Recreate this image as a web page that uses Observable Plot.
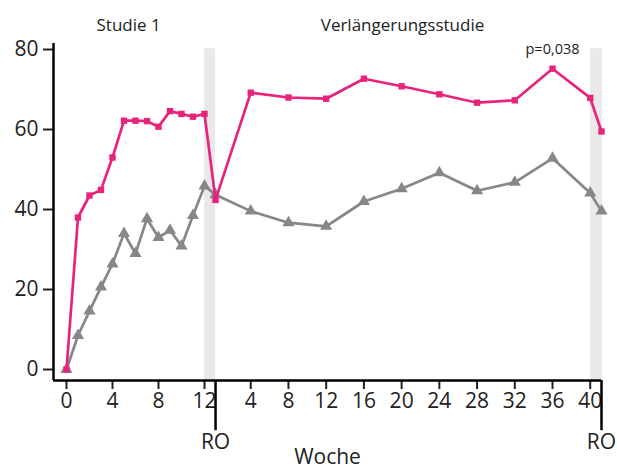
<!DOCTYPE html>
<html>
<head>
<meta charset="utf-8">
<script src="https://cdn.jsdelivr.net/npm/d3@7"></script>
<script src="https://cdn.jsdelivr.net/npm/@observablehq/plot@0.6"></script>
<style>
  body { margin: 0; background: white; }
  #chart { width: 617px; height: 470px; }
</style>
</head>
<body>
<div id="chart"></div>
<script>
// ---- Data ----
const weeksStudy1 = [0, 1, 2, 3, 4, 5, 6, 7, 8, 9, 10, 11, 12];
const weeksExt = [4, 8, 12, 16, 20, 24, 28, 32, 36, 40];
const pinkStudy1 = [0, 38, 43.5, 44.9, 53, 62.2, 62.2, 62.1, 60.7, 64.6, 63.9, 63.2, 63.9];
const pinkRO1 = 42.4;
const pinkExt = [69.2, 68, 67.7, 72.7, 70.8, 68.8, 66.7, 67.3, 75.2, 67.9];
const pinkRO2 = 59.5;
const greyStudy1 = [0, 8.5, 14.6, 20.6, 26.4, 34, 29, 37.7, 33, 34.8, 30.9, 38.5, 45.9];
const greyRO1 = 43.7;
const greyExt = [39.6, 36.7, 35.8, 42, 45.2, 49.2, 44.7, 46.8, 52.8, 44.1];
const greyRO2 = 39.6;
const study1Ticks = [0, 4, 8, 12];
const extTicks = [4, 8, 12, 16, 20, 24, 28, 32, 36, 40];
const yTicks = [0, 20, 40, 60, 80];
const headings = ["Studie 1", "Verlängerungsstudie"];
const pLabel = "p=0,038";
const pWeek = 36;

// ---- Layout: broken x axis (Studie 1 | RO | Verlängerungsstudie | RO) ----
const posS1 = w => w;
const posRO1 = 12.96;
const posExt = w => 12.74 + w * 0.82;
const posRO2 = 46.52;
const xMin = -1.13;
const yMin = -2.75, yMax = 81.5;

function series(name, s1, ro1, ext, ro2) {
  const pts = [];
  weeksStudy1.forEach((w, i) => pts.push({series: name, pos: posS1(w), v: s1[i]}));
  pts.push({series: name, pos: posRO1, v: ro1});
  weeksExt.forEach((w, i) => pts.push({series: name, pos: posExt(w), v: ext[i]}));
  pts.push({series: name, pos: posRO2, v: ro2});
  return pts;
}
const pink = series("pink", pinkStudy1, pinkRO1, pinkExt, pinkRO2);
const grey = series("grey", greyStudy1, greyRO1, greyExt, greyRO2);

const tickMap = new Map();
study1Ticks.forEach(w => tickMap.set(posS1(w), String(w)));
extTicks.forEach(w => tickMap.set(posExt(w), String(w)));
const tickPositions = [...tickMap.keys()];

const PINK = "#e8237c";
const GREY = "#878787";
const BAND = "#e9e9e9";

const chart = Plot.plot({
  width: 617,
  height: 470,
  marginLeft: 53,
  marginRight: 16,
  marginTop: 43,
  marginBottom: 90,
  style: {fontFamily: "'Open Sans', sans-serif", color: "#222", background: "white"},
  x: {domain: [xMin, posRO2], axis: null},
  y: {domain: [yMin, yMax], axis: null},
  marks: [
    // shaded RO bands
    Plot.rect([{x1: 12.0, x2: posRO1}, {x1: 45.57, x2: 46.6}], {x1: "x1", x2: "x2", y1: yMin, y2: 80.2, fill: BAND}),
    // axes
    Plot.axisY({ticks: yTicks, tickSize: 10, tickPadding: 5, fontSize: 21, strokeWidth: 2, label: null}),
    Plot.axisX({ticks: tickPositions, tickFormat: d => tickMap.get(d), tickSize: 9, tickPadding: 4, fontSize: 21, strokeWidth: 2, label: null}),
    Plot.ruleX([xMin], {y1: yMin, y2: yMax, stroke: "black", strokeWidth: 2.5}),
    Plot.ruleY([yMin], {x1: xMin, x2: posRO2, stroke: "black", strokeWidth: 2.5}),
    Plot.ruleX([posRO1, posRO2], {y1: yMin, y2: -15.3, stroke: "black", strokeWidth: 2.5, clip: false}),
    Plot.text(["RO", "RO"], {x: (d, i) => [posRO1, posRO2][i], frameAnchor: "bottom", lineAnchor: "middle", dy: 62, fontSize: 21, text: d => d}),
    Plot.text(["Woche"], {frameAnchor: "bottom", lineAnchor: "middle", dy: 77, fontSize: 21, text: d => d}),
    // headings
    Plot.text([headings[0]], {x: 5.4, frameAnchor: "top", lineAnchor: "middle", dy: -18, fontSize: 17, text: d => d}),
    Plot.text([headings[1]], {x: (402 - 66) / 11.5, frameAnchor: "top", lineAnchor: "middle", dy: -18, fontSize: 17, text: d => d}),
    Plot.text([pLabel], {x: posExt(pWeek), y: 80, fontSize: 14.5, text: d => d}),
    // series
    Plot.line(grey, {x: "pos", y: "v", stroke: GREY, strokeWidth: 2.7}),
    Plot.dot(grey, {x: "pos", y: "v", symbol: "triangle", r: 4.5, fill: GREY}),
    Plot.line(pink, {x: "pos", y: "v", stroke: PINK, strokeWidth: 2.7}),
    Plot.dot(pink, {x: "pos", y: "v", symbol: "square", r: 3.6, fill: PINK})
  ]
});
document.getElementById("chart").appendChild(chart);
</script>
</body>
</html>
